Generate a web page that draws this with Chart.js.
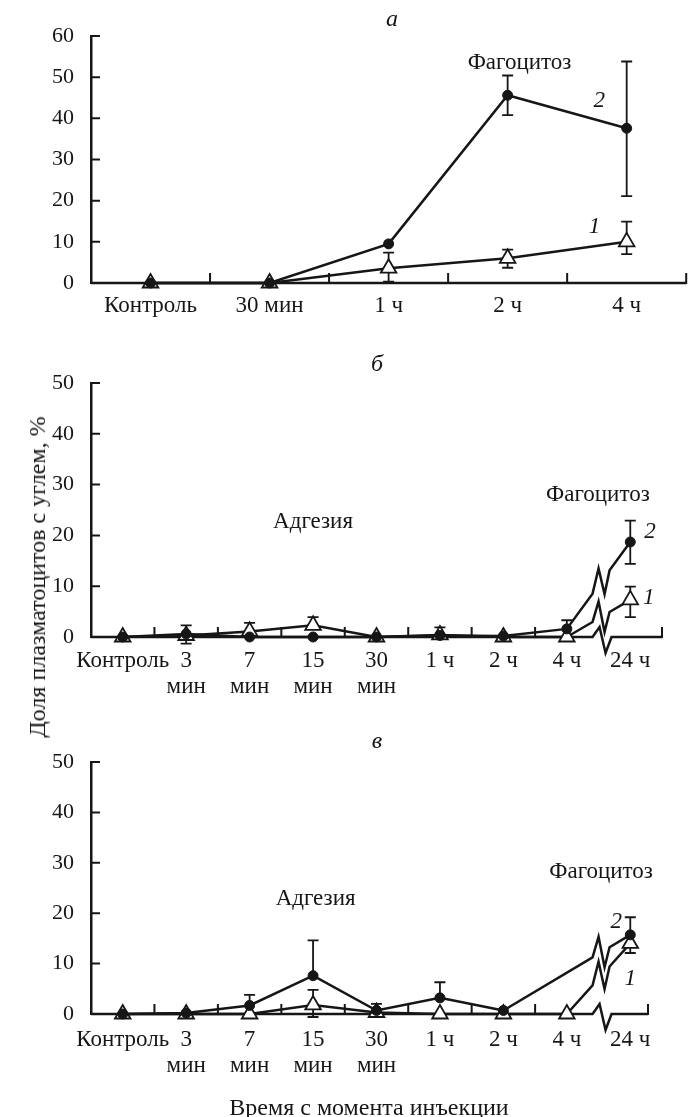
<!DOCTYPE html>
<html lang="ru">
<head>
<meta charset="utf-8">
<title>Доля плазматоцитов с углем</title>
<script src="https://cdn.jsdelivr.net/npm/chart.js@4.4.1/dist/chart.umd.min.js"></script>
<style>
  html, body { margin: 0; padding: 0; background: #fff; }
  #page { position: relative; width: 697px; height: 1117px; overflow: hidden;
          font-family: "Liberation Serif", "DejaVu Serif", serif; color: #161616; }
  #page canvas { position: absolute; left: 0; }
  .txt { position: absolute; transform: translate(-50%, -50%); white-space: nowrap; line-height: 1; }
  .letter { font-style: italic; font-size: 24px; }
  #ytitle { font-size: 24px; transform: translate(-50%, -50%) rotate(-90deg); }
  #xtitle { font-size: 24px; }
</style>
</head>
<body>
<div id="page">
  <canvas id="chartA" width="697" height="330" style="top:0"></canvas>
  <canvas id="chartB" width="697" height="385" style="top:330px"></canvas>
  <canvas id="chartC" width="697" height="402" style="top:715px"></canvas>
  <div class="txt letter" style="left:392px;top:18px">а</div>
  <div class="txt letter" style="left:377px;top:363px">б</div>
  <div class="txt letter" style="left:377px;top:740px">в</div>
  <div class="txt" id="ytitle" style="left:37px;top:577px">Доля плазматоцитов с углем, %</div>
  <div class="txt" id="xtitle" style="left:369px;top:1107px">Время с момента инъекции</div>
</div>
<script>
// ---- Data ----
const yTicksA = [0, 10, 20, 30, 40, 50, 60];
const yTicksBC = [0, 10, 20, 30, 40, 50];

const labelsA = ["Контроль", "30 мин", "1 ч", "2 ч", "4 ч"];
const labelsBC = ["Контроль", ["3", "мин"], ["7", "мин"], ["15", "мин"], ["30", "мин"], "1 ч", "2 ч", "4 ч", "24 ч"];

// а: curve 1 = open triangles, curve 2 = filled circles; errors are [low, high]
const a1 = [0, 0, 3.6, 6.0, 10.0];
const a1Err = [null, null, [0.3, 7.4], [3.7, 8.1], [7.0, 14.9]];
const a2 = [0, 0, 9.5, 45.6, 37.6];
const a2Err = [null, null, null, [40.8, 50.4], [21.1, 53.8]];

// б
const b1 = [0, 0.3, 1.1, 2.3, 0, 0.4, 0, 0, 7.3];
const b1Err = [null, [-1.3, 0.3], [1.1, 2.8], [2.3, 3.9], null, [0.4, 1.9], null, null, [3.9, 9.9]];
const b2 = [0, 0.6, 0, 0, 0, 0.3, 0.2, 1.6, 18.7];
const b2Err = [null, [0.6, 2.3], null, null, null, null, null, [1.6, 3.3], [14.4, 22.9]];

// в (no circle at 4 ч)
const c1 = [0, 0, 0, 1.8, 0.3, 0, 0, 0, 14.0];
const c1Err = [null, null, null, [-0.6, 4.8], null, null, null, null, [12.1, 14.0]];
const c2 = [0, 0.2, 1.7, 7.6, 0.7, 3.2, 0.7, null, 15.7];
const c2Err = [null, null, [1.7, 3.8], [7.6, 14.6], [0.7, 2.0], [3.2, 6.3], null, null, [15.7, 19.2]];

// ---- Styling ----
const INK = "#161616";
const SERIF = "'Liberation Serif', 'DejaVu Serif', serif";
Chart.defaults.font.family = SERIF;
Chart.defaults.color = INK;

// hide the straight segment that crosses the axis break (drawn as a zigzag instead)
function hideBreak(brk) {
  return ctx => (brk != null && ctx.p0DataIndex < brk && ctx.p1DataIndex > brk) ? "rgba(0,0,0,0)" : undefined;
}

function triangles(data, err, brk) {
  return {
    data, errorBars: err, order: 1, clip: false, spanGaps: true, tension: 0,
    borderColor: INK, borderWidth: 2.5,
    pointStyle: "triangle", pointRadius: 9, pointBackgroundColor: "#fff",
    pointBorderColor: INK, pointBorderWidth: 1.8,
    segment: { borderColor: hideBreak(brk) }
  };
}

function circles(data, err, brk) {
  return {
    data, errorBars: err, order: 0, clip: false, spanGaps: true, tension: 0,
    borderColor: INK, borderWidth: 2.5,
    pointStyle: "circle", pointRadius: 5, pointBackgroundColor: INK,
    pointBorderColor: INK, pointBorderWidth: 1,
    segment: { borderColor: hideBreak(brk) }
  };
}

// axis with inward ticks + break, error bars, zigzag segments, text notes
const decor = {
  id: "decor",
  beforeDatasetsDraw(chart, args, o) {
    const { ctx, chartArea: ca, scales: { x, y } } = chart;
    const y0 = y.getPixelForValue(0);
    const end = ca.right - (o.inset || 0);
    ctx.save();
    ctx.strokeStyle = INK;
    ctx.lineJoin = "miter";
    ctx.lineWidth = 2.5;
    ctx.beginPath();
    ctx.moveTo(ca.left, y0);
    if (o.brk != null) {
      const bx = x.getPixelForValue(o.brk);
      ctx.lineTo(bx - 6, y0);
      ctx.lineTo(bx + 1, y0 - 10);
      ctx.lineTo(bx + 7, y0 + 16);
      ctx.lineTo(bx + 13, y0);
    }
    ctx.lineTo(end, y0);
    ctx.stroke();

    ctx.lineWidth = 2;
    ctx.beginPath();
    for (let v = 0.5; v < chart.data.labels.length - 1; v++) {
      if (v === o.brk) continue;
      const px = x.getPixelForValue(v);
      ctx.moveTo(px, y0);
      ctx.lineTo(px, y0 - 10);
    }
    ctx.moveTo(end, y0 + 1);
    ctx.lineTo(end, y0 - 10);
    y.ticks.forEach(t => {
      if (t.value === 0) return;
      const py = y.getPixelForValue(t.value);
      ctx.moveTo(ca.left, py);
      ctx.lineTo(ca.left + 9, py);
    });
    ctx.stroke();

    // error bars
    ctx.lineWidth = 1.8;
    chart.data.datasets.forEach(ds => {
      (ds.errorBars || []).forEach((e, i) => {
        if (!e) return;
        const v = ds.data[i];
        const px = x.getPixelForValue(i);
        const pl = y.getPixelForValue(e[0]);
        const ph = y.getPixelForValue(e[1]);
        ctx.beginPath();
        ctx.moveTo(px, pl);
        ctx.lineTo(px, ph);
        if (e[0] < v) { ctx.moveTo(px - 5.5, pl); ctx.lineTo(px + 5.5, pl); }
        if (e[1] > v) { ctx.moveTo(px - 5.5, ph); ctx.lineTo(px + 5.5, ph); }
        ctx.stroke();
      });
    });
    ctx.restore();
  },
  beforeDatasetDraw(chart, args, o) {
    if (o.brk == null) return;
    const ds = chart.data.datasets[args.index];
    const pts = args.meta.data;
    let i0 = -1, i1 = -1;
    ds.data.forEach((v, i) => {
      if (v === null) return;
      if (i < o.brk) i0 = i; else if (i1 < 0) i1 = i;
    });
    if (i0 < 0 || i1 < 0) return;
    const p0 = pts[i0], p1 = pts[i1];
    const bx = chart.scales.x.getPixelForValue(o.brk);
    const at = px => p0.y + (px - p0.x) * (p1.y - p0.y) / (p1.x - p0.x);
    const ctx = chart.ctx;
    ctx.save();
    ctx.strokeStyle = INK;
    ctx.lineWidth = 2.5;
    ctx.lineJoin = "miter";
    ctx.beginPath();
    ctx.moveTo(p0.x, p0.y);
    ctx.lineTo(bx - 6, at(bx - 6));
    ctx.lineTo(bx, at(bx) - 17);
    ctx.lineTo(bx + 6, at(bx + 6) + 17);
    ctx.lineTo(bx + 11, at(bx + 11));
    ctx.lineTo(p1.x, p1.y);
    ctx.stroke();
    ctx.restore();
  },
  afterDatasetsDraw(chart, args, o) {
    const { ctx, scales: { x, y } } = chart;
    ctx.save();
    ctx.fillStyle = INK;
    ctx.textAlign = "center";
    ctx.textBaseline = "middle";
    (o.notes || []).forEach(n => {
      ctx.font = (n.italic ? "italic " : "") + "23px " + SERIF;
      ctx.fillText(n.text, x.getPixelForValue(n.at[0]), y.getPixelForValue(n.at[1]));
    });
    ctx.restore();
  }
};

function mkChart(id, cfg) {
  return new Chart(document.getElementById(id), {
    type: "line",
    data: {
      labels: cfg.labels,
      datasets: [circles(cfg.s2, cfg.s2Err, cfg.brk), triangles(cfg.s1, cfg.s1Err, cfg.brk)]
    },
    options: {
      responsive: false,
      animation: false,
      events: [],
      layout: { padding: { top: cfg.top, right: cfg.right, left: 0, bottom: 0 } },
      plugins: {
        legend: { display: false },
        tooltip: { enabled: false },
        decor: { brk: cfg.brk, inset: cfg.inset, notes: cfg.notes }
      },
      scales: {
        x: {
          type: "category", offset: true,
          grid: { display: false, drawTicks: false },
          border: { display: false },
          ticks: { autoSkip: false, maxRotation: 0, padding: cfg.labelPad,
                   font: { size: 23, lineHeight: 1.17 }, color: INK },
          afterFit: s => { s.height = cfg.xh; }
        },
        y: {
          min: cfg.yTicks[0], max: cfg.yTicks[cfg.yTicks.length - 1],
          grid: { display: false, drawTicks: false },
          border: { display: true, color: INK, width: 2.5 },
          ticks: { padding: 17, font: { size: 22 }, color: INK },
          afterBuildTicks: s => { s.ticks = cfg.yTicks.map(v => ({ value: v })); },
          afterFit: s => { s.width = 91; }
        }
      }
    },
    plugins: [decor]
  });
}

mkChart("chartA", {
  labels: labelsA, s1: a1, s1Err: a1Err, s2: a2, s2Err: a2Err, yTicks: yTicksA,
  top: 36, right: 1, xh: 47, labelPad: 9, inset: 0, brk: null,
  notes: [
    { text: "Фагоцитоз", at: [3.1, 53.5] },
    { text: "2", at: [3.77, 44.3], italic: true },
    { text: "1", at: [3.73, 13.7], italic: true }
  ]
});

mkChart("chartB", {
  labels: labelsBC, s1: b1, s1Err: b1Err, s2: b2, s2Err: b2Err, yTicks: yTicksBC,
  top: 53, right: 35, xh: 78, labelPad: 10, inset: 0, brk: 7.5,
  notes: [
    { text: "Адгезия", at: [3.0, 22.6] },
    { text: "Фагоцитоз", at: [7.49, 27.9] },
    { text: "2", at: [8.31, 20.6], italic: true },
    { text: "1", at: [8.29, 7.7], italic: true }
  ]
});

mkChart("chartC", {
  labels: labelsBC, s1: c1, s1Err: c1Err, s2: c2, s2Err: c2Err, yTicks: yTicksBC,
  top: 47, right: 35, xh: 103, labelPad: 12, inset: 14, brk: 7.5,
  notes: [
    { text: "Адгезия", at: [3.04, 22.8] },
    { text: "Фагоцитоз", at: [7.54, 28.2] },
    { text: "2", at: [7.78, 18.3], italic: true },
    { text: "1", at: [8.0, 7.0], italic: true }
  ]
});
</script>
</body>
</html>
